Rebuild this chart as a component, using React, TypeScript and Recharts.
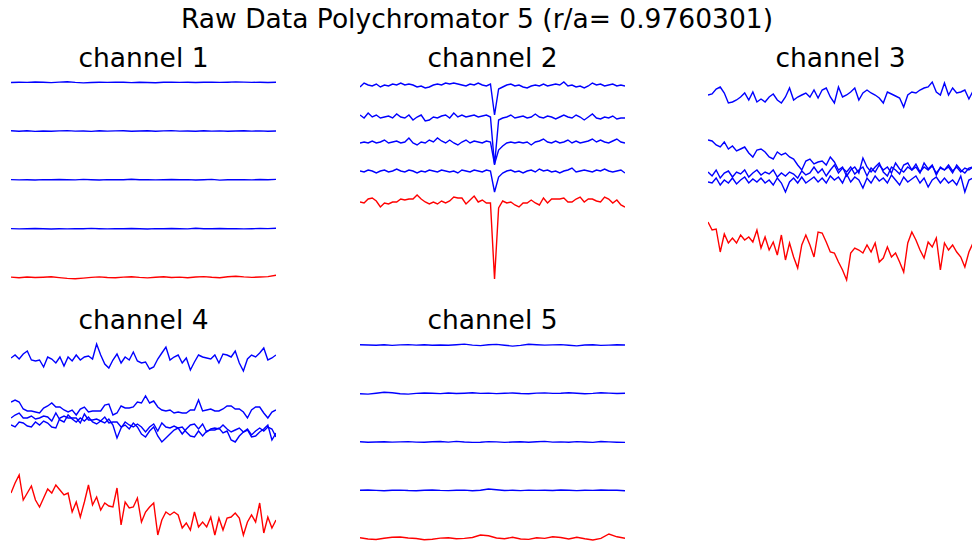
import { Line, LineChart, XAxis, YAxis } from "recharts"

// signal level of each trace, arbitrary units (0..215 per panel), one array per trace
const ch1Trace1 = [202.5,202.8,202.6,203.0,202.7,202.4,202.9,203.3,202.6,202.1,202.5,202.8,202.6,202.9,202.7,202.4,202.8,202.5,202.2,202.7,202.9,202.6,202.8,202.5,202.7,202.9,202.6,202.8,203.1,202.9,202.6,202.8,202.5,202.7]
const ch1Trace2 = [154.2,153.8,154.3,153.6,154.0,153.7,154.1,154.4,153.9,154.0,153.6,154.2,153.9,154.1,154.3,153.8,154.0,154.2,153.7,154.1,154.4,153.9,154.0,153.8,154.2,153.9,154.1,153.7,154.0,154.3,153.9,154.1,153.8,154.0]
const ch1Trace3 = [105.4,105.1,105.3,105.0,105.4,105.2,105.5,105.3,105.1,105.6,105.3,105.0,105.4,105.2,105.3,105.7,105.2,105.4,105.1,105.3,105.5,105.2,105.4,105.0,105.3,105.6,104.9,105.3,105.2,105.4,105.1,105.5,105.3,105.6]
const ch1Trace4 = [56.4,56.1,56.3,56.5,56.2,56.0,56.3,56.1,56.4,56.2,56.6,56.3,56.1,56.4,56.2,56.5,56.3,56.0,56.4,56.2,56.5,56.3,56.1,56.7,56.3,56.2,56.5,56.3,56.4,56.1,56.3,56.5,56.4,56.7]
const ch1Trace5 = [7.9,7.3,8.0,7.5,7.8,8.2,7.4,6.6,6.2,6.9,7.6,8.1,7.5,7.2,7.9,8.3,7.6,7.1,7.8,8.2,7.5,7.9,7.3,8.0,8.4,7.7,7.2,8.3,8.8,8.1,7.6,8.0,8.4,9.8]

const ch2Trace1 = [198,202,200,199,201,198,200,199,201,200,202,200,201,200,198,199,197,198,200,201,200,202,201,202,201,200,199,201,200,202,200,199,201,170,196,198,200,201,199,200,198,197,199,200,199,201,199,200,201,200,203,199,200,198,199,197,199,202,200,201,199,200,201,199,200,199]
const ch2Trace2 = [170,167,172,168,170,167,168,169,167,171,168,167,170,165,168,170,164,165,168,167,169,170,167,172,168,170,168,169,170,168,169,170,168,120,165,167,168,170,167,168,169,167,168,171,168,167,169,168,166,168,170,168,167,170,168,165,168,171,167,166,168,167,169,166,167,167]
const ch2Trace3 = [142,143,142,144,142,143,145,142,143,144,142,143,147,142,140,143,142,145,143,147,144,142,145,142,140,143,145,142,144,143,142,144,143,121,135,139,142,143,142,143,142,143,140,143,144,146,143,142,144,142,143,145,142,144,142,143,144,146,143,145,143,142,144,146,143,142]
const ch2Trace4 = [114,113,115,114,112,114,115,113,114,116,114,113,115,114,112,114,113,115,114,113,115,114,113,114,112,115,114,113,115,114,113,115,114,93,108,112,114,115,113,114,112,114,115,113,116,114,115,113,114,112,114,115,117,113,114,115,114,113,115,114,116,114,113,114,115,112]
const ch2Trace5 = [83,82,86,87,84,78,82,81,83,83,86,85,86,86,90,86,83,81,83,81,84,82,84,88,87,87,81,85,89,83,85,82,82,6,77,84,82,83,80,78,82,82,85,82,80,87,82,86,86,86,87,83,83,86,88,83,86,86,84,83,88,86,82,85,80,78]

const ch3Trace1 = [190,191,196,198,192,182,183,185,188,192,185,193,183,186,183,188,191,185,182,188,197,185,188,190,192,188,195,187,195,197,188,182,198,188,190,193,197,185,192,195,192,190,187,182,193,191,189,187,178,190,193,192,195,197,198,203,193,190,202,190,197,192,193,195,186,194]
const ch3Trace2 = [145,144,140,138,143,136,139,134,136,138,132,128,135,136,133,128,126,133,130,132,128,126,120,115,124,126,121,123,124,120,128,123,115,118,109,115,118,112,127,118,113,118,122,113,109,118,115,111,120,122,115,118,112,122,116,120,110,118,115,118,112,120,115,112,117,118]
const ch3Trace3 = [113,109,115,107,112,114,108,113,111,115,108,112,115,110,113,111,115,108,112,109,113,111,107,114,110,112,118,112,116,109,115,120,112,117,113,118,111,115,118,109,117,113,120,115,118,112,122,116,113,118,115,121,113,118,115,119,112,117,115,120,114,118,113,117,115,118]
const ch3Trace4 = [103,102,107,100,105,102,107,101,105,108,102,106,103,107,102,105,100,107,102,93,103,107,102,108,102,105,108,103,107,102,109,105,108,102,111,103,108,105,97,107,102,109,104,107,102,110,105,100,108,103,106,109,102,107,98,105,108,102,107,102,105,100,109,93,105,107]
const ch3Trace5 = [63,55,56,33,51,42,47,42,50,45,48,43,55,37,48,35,43,30,50,25,42,28,17,40,50,40,28,53,52,43,33,32,23,15,5,32,37,35,32,40,33,42,23,27,38,28,32,23,13,42,53,45,35,27,43,38,47,15,42,35,40,33,28,18,33,42]

const ch4Trace1 = [187,190,186,191,194,185,184,185,178,188,186,182,188,179,188,184,190,185,188,189,186,201,190,181,177,185,191,182,188,185,193,184,182,183,176,178,186,192,198,185,188,190,182,187,175,183,190,188,187,186,190,182,191,190,188,194,182,174,186,190,188,192,197,185,187,190]
const ch4Trace2 = [143,145,143,136,134,134,133,132,137,139,142,138,138,135,133,135,130,136,138,133,134,134,134,140,141,130,132,139,137,137,138,143,142,149,142,144,138,135,134,135,132,133,132,132,135,135,145,134,135,136,134,134,136,139,139,136,136,133,127,135,138,138,132,127,133,135]
const ch4Trace3 = [127,130,132,127,127,129,126,127,129,128,124,132,125,123,130,126,123,127,124,128,123,121,124,122,126,120,107,117,123,120,118,121,118,113,118,121,114,122,118,117,119,117,111,116,120,121,116,121,113,116,117,116,120,116,113,115,117,113,116,110,114,117,114,118,116,108]
const ch4Trace4 = [120,118,123,122,119,118,123,120,124,122,118,117,127,129,127,127,127,122,131,125,125,126,124,128,122,123,123,118,120,116,122,118,111,108,114,118,109,103,107,111,115,117,118,113,109,108,114,109,114,115,115,117,112,114,105,103,109,113,115,108,109,113,116,120,105,112]
const ch4Trace5 = [52,62,70,45,52,59,45,38,47,56,52,60,55,50,52,33,43,28,43,60,40,48,35,42,39,38,57,20,43,37,38,47,23,33,38,42,10,25,33,30,33,30,17,22,15,33,18,23,18,28,10,27,15,27,28,32,27,10,23,30,23,42,12,28,17,25]

const ch5Trace1 = [200.3,200.0,199.8,200.2,199.6,200.1,200.4,199.9,200.2,199.7,200.0,199.8,200.3,200.9,199.9,199.4,200.2,200.6,199.8,198.9,199.6,200.8,200.3,199.9,200.1,200.4,199.8,199.1,200.0,200.2,199.6,199.9,200.3,200.0]
const ch5Trace2 = [151.2,150.9,151.8,152.8,152.3,151.3,150.9,151.6,152.0,151.7,151.4,152.0,151.5,151.8,152.2,151.6,151.9,151.4,151.7,152.0,151.5,151.3,151.9,152.1,151.6,151.8,152.2,151.7,151.2,151.6,152.3,151.9,151.5,151.7]
const ch5Trace3 = [103.2,102.8,103.0,103.3,102.9,103.1,103.4,102.9,102.7,103.2,103.5,102.9,103.6,103.0,102.6,102.8,103.4,103.1,102.6,103.0,103.3,102.8,103.2,103.6,102.9,103.1,102.7,103.4,103.0,102.6,103.5,103.1,102.8,102.6]
const ch5Trace4 = [54.8,55.0,54.6,54.2,54.7,54.9,54.5,54.3,54.8,55.0,54.6,54.4,54.7,54.9,54.3,54.8,56.0,55.2,54.5,54.7,54.4,54.9,54.6,54.8,54.5,55.0,54.7,54.4,54.8,54.6,55.0,54.7,54.8,54.2]
const ch5Trace5 = [7.2,6.0,5.5,6.7,7.8,8.0,7.0,6.5,5.3,5.8,6.9,7.3,6.2,6.6,7.5,10.0,9.2,7.0,6.3,7.7,6.0,5.6,7.2,6.6,8.3,7.5,6.0,7.8,6.2,5.0,6.6,11.0,8.2,6.8]

const channelTitles = ["channel 1", "channel 2", "channel 3", "channel 4", "channel 5"]
const suptitle = "Raw Data Polychromator 5 (r/a= 0.9760301)"
const signalRange = [0, 215]

const PANEL_W = 265
const PANEL_H = 215
const TITLE_SIZE = 26.5

const panels = [
  { title: channelTitles[0], traces: [ch1Trace1, ch1Trace2, ch1Trace3, ch1Trace4, ch1Trace5], left: 11, top: 70, titleY: 66.7 },
  { title: channelTitles[1], traces: [ch2Trace1, ch2Trace2, ch2Trace3, ch2Trace4, ch2Trace5], left: 360, top: 70, titleY: 66.7 },
  { title: channelTitles[2], traces: [ch3Trace1, ch3Trace2, ch3Trace3, ch3Trace4, ch3Trace5], left: 708, top: 70, titleY: 66.7 },
  { title: channelTitles[3], traces: [ch4Trace1, ch4Trace2, ch4Trace3, ch4Trace4, ch4Trace5], left: 11, top: 330, titleY: 329.3 },
  { title: channelTitles[4], traces: [ch5Trace1, ch5Trace2, ch5Trace3, ch5Trace4, ch5Trace5], left: 360, top: 330, titleY: 329.3 },
]

const Panel = ({ traces, left, top }: { traces: number[][], left: number, top: number }) => {
  const n = traces[0].length
  const rows = traces[0].map((_, i) => {
    const row: Record<string, number> = { t: i }
    traces.forEach((s, k) => { row["s" + k] = s[i] })
    return row
  })
  return (
    <div style={{ position: "absolute", left, top, width: PANEL_W, height: PANEL_H }}>
      <LineChart width={PANEL_W} height={PANEL_H} data={rows} margin={{ top: 0, right: 0, bottom: 0, left: 0 }}>
        <XAxis dataKey="t" type="number" domain={[0, n - 1]} hide />
        <YAxis type="number" domain={signalRange} hide />
        {traces.map((_, k) => (
          <Line
            key={k}
            type="linear"
            dataKey={"s" + k}
            stroke={k === traces.length - 1 ? "#ff0000" : "#0000ff"}
            strokeWidth={1.4}
            dot={false}
            isAnimationActive={false}
          />
        ))}
      </LineChart>
    </div>
  )
}

const App = () => {
  return (
    <div style={{ position: "absolute", left: 0, top: 0, width: 972, height: 545, background: "#fff", overflow: "hidden" }}>
      <svg width={972} height={545} style={{ position: "absolute", left: 0, top: 0 }}>
        <text x={477} y={27.7} textAnchor="middle" fontFamily="DejaVu Sans" fontSize={TITLE_SIZE} fill="#000">
          {suptitle}
        </text>
        {panels.map((p) => (
          <text key={p.title} x={p.left + PANEL_W / 2} y={p.titleY} textAnchor="middle" fontFamily="DejaVu Sans" fontSize={TITLE_SIZE} fill="#000">
            {p.title}
          </text>
        ))}
      </svg>
      {panels.map((p) => (
        <Panel key={p.title} traces={p.traces} left={p.left} top={p.top} />
      ))}
    </div>
  )
}

export default App
